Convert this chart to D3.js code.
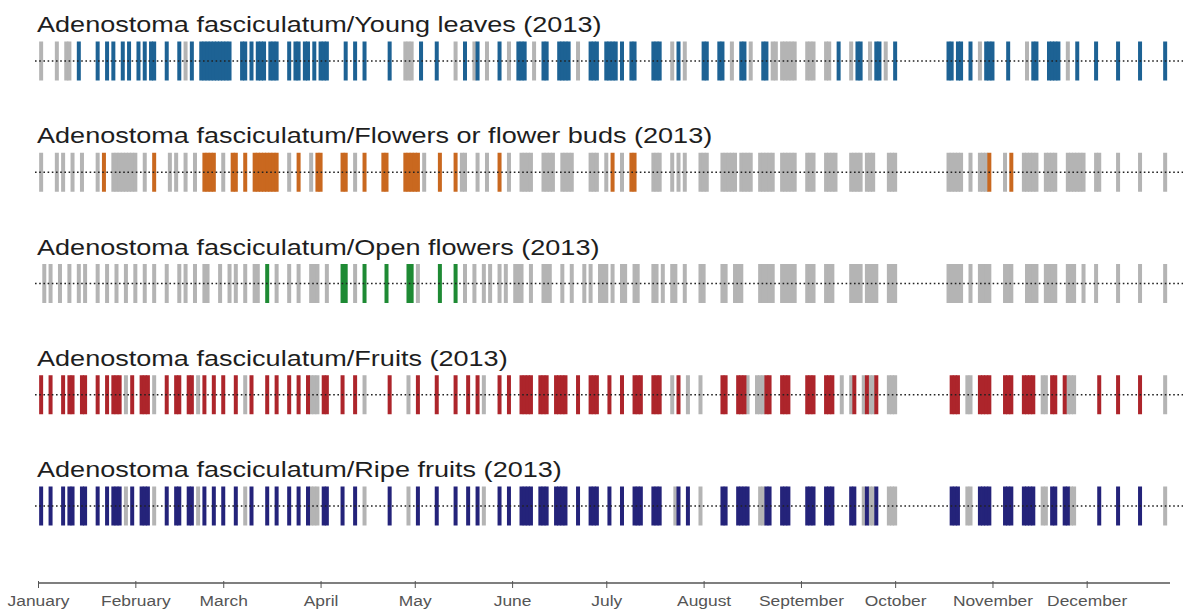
<!DOCTYPE html>
<html>
<head>
<meta charset="utf-8">
<script src="https://cdn.jsdelivr.net/npm/d3@7"></script>
<style>
  html, body { margin: 0; padding: 0; background: #fff; }
  svg { display: block; }
  text { font-family: "Liberation Sans", Arial, sans-serif; }
</style>
</head>
<body>
<svg id="chart" width="1183" height="609"></svg>
<script>
// ---- data -------------------------------------------------------------
const species = "Adenostoma fasciculatum";
const year = 2013;
const phenophases = ["Young leaves", "Flowers or flower buds", "Open flowers", "Fruits", "Ripe fruits"];
const monthNames = ["January", "February", "March", "April", "May", "June",
                    "July", "August", "September", "October", "November", "December"];

// Observation days (day of year). A number is one day, [a, b] is a run of days.
// "Yes" = phenophase present, "No" = observed but absent.
const youngLeavesYes = [14, 20, 23, 25, 28, 30, 33, 35, [37, 38], 42, 46, 50, [53, 62], [66, 67], 69,
  [71, 73], [75, 77], 81, [83, 84], [86, 87], 89, [91, 93], 99, 102, 105, 113, 123, 128, 137, 141, 148,
  [154, 156], [162, 163], [167, 170], [177, 179], [182, 185], 187, [190, 191], [197, 199], 205,
  [213, 214], [218, 219], [225, 226], [232, 233], 256, [262, 263], [268, 269], 274, [291, 292],
  [294, 295], 298, [303, 305], 310, [318, 319], [323, 326], 332, 338, 345, 352, 360];
const youngLeavesNo = [2, 7, 10, 11, 48, [118, 120], 134, 140, 144, 151, 159, 173, 203, 207, 222, 228,
  [235, 236], [238, 242], [246, 248], [252, 253], 260, 266, 271, 301, 316, 329];

const flowersYes = [22, 38, [54, 57], [63, 64], 67, [70, 77], 84, [90, 91], [98, 99], 105, [111, 112],
  [118, 122], 129, 134, 148, 184, [190, 191], 304, 311];
const flowersNo = [2, 7, 9, 12, 15, 20, [25, 32], 35, 43, 45, 48, 51, 60, 81, 88, 102, 124, [136, 137],
  141, 144, 151, [155, 158], [162, 165], [168, 171], [177, 179], 182, 187, [197, 199], 203, 205, 207,
  [212, 214], [219, 223], [225, 228], [231, 235], [238, 242], [246, 248], [252, 255], [260, 263],
  [265, 267], [272, 274], [291, 295], 298, [301, 303], 309, [315, 319], [322, 325], [329, 334],
  [338, 339], 345, 352, 360];

const openFlowersYes = [74, [98, 99], 105, 112, [119, 120], 129, 134];
const openFlowersNo = [3, 5, 8, 11, 14, 16, 20, 23, 26, 29, 32, 35, 38, 42, 46, 48, 51, [54, 55], 59, 62,
  64, 67, [70, 71], 77, 81, 84, [88, 90], 93, 102, 122, 137, 140, 143, 145, 148, 150, [153, 155], 158,
  [162, 164], 168, 171, 175, 177, [180, 182], 184, [187, 188], [191, 192], [197, 198], 200, [203, 204],
  207, [212, 213], [219, 220], [223, 225], [231, 235], [238, 242], [246, 248], [252, 254], [260, 263],
  [265, 268], [272, 274], [291, 295], 298, [301, 304], [309, 311], [316, 319], [322, 325], [329, 331],
  334, 338, 345, 352, 360];

const fruitsYes = [2, 5, 9, [11, 12], [15, 16], 20, 23, [25, 27], 31, [34, 36], 42, [45, 46], [49, 50],
  54, 57, 60, 64, 69, 74, 77, 81, 84, 87, [92, 93], 98, 102, 113, 122, 128, 134, 138, 141, 148, 151,
  [155, 158], [161, 163], [166, 169], 173, [177, 179], 183, 187, [191, 193], [197, 199], 205,
  [219, 220], [224, 226], [233, 234], [238, 240], [246, 248], [252, 254], 261, 265, 268,
  [292, 294], [301, 304], [309, 311], [315, 318], [324, 325], 328, 339, 345, 352];
const fruitsNo = [29, 38, 52, 67, [88, 90], 105, 119, 143, 203, 208, 212, 227, [230, 232], 257, 260, 264,
  [266, 267], [272, 274], [297, 298], [321, 322], [329, 331], 360];

const ripeFruitsYes = [2, 5, 9, [11, 12], [15, 16], 20, 23, [25, 27], 31, [34, 36], 42, [45, 46], [49, 50],
  54, 57, 60, 64, 69, 74, 77, 81, 84, 87, [92, 93], 98, 102, 113, 122, 128, 134, 138, 141, 148, 151,
  [155, 158], [161, 163], [166, 169], 173, [177, 179], 183, 187, [191, 193], [197, 199], 205, 208,
  [219, 220], [224, 227], [233, 234], [238, 240], [246, 248], [252, 254], [260, 261], 265, 268,
  [292, 294], [301, 304], [309, 311], [315, 318], [324, 325], [328, 329], 339, 345, 352];
const ripeFruitsNo = [29, 38, 52, 67, [88, 90], 105, 119, 143, 204, 212, [231, 232], 264, [266, 267],
  [272, 274], [297, 298], [321, 322], [330, 331], 360];

const seriesYes = [youngLeavesYes, flowersYes, openFlowersYes, fruitsYes, ripeFruitsYes];
const seriesNo = [youngLeavesNo, flowersNo, openFlowersNo, fruitsNo, ripeFruitsNo];
const seriesColors = ["#1d6294", "#c9681f", "#1e8a34", "#ad252b", "#24237a"];
const absentColor = "#b4b4b4";

// ---- helpers ----------------------------------------------------------
const jan1 = new Date(year, 0, 1);
const dayToDate = d => d3.timeDay.offset(jan1, d - 1);
const expand = runs => runs.flatMap(r => Array.isArray(r) ? d3.range(r[0], r[1] + 1) : [r]);

// ---- layout -----------------------------------------------------------
const svg = d3.select("#chart");
const monthStarts = d3.range(0, 12).map(m => new Date(year, m, 1));

const x = d3.scaleTime()
  .domain([jan1, new Date(year + 1, 0, 1)])
  .range([38, 1184]);

const y = d3.scalePoint()
  .domain(phenophases)
  .range([61, 506]);

const barW = 4, barH = 39;
const textStretch = 1.23;

phenophases.forEach((p, i) => {
  const cy = y(p);
  const g = svg.append("g");

  // title
  g.append("text")
    .attr("transform", `translate(37,${cy - 29}) scale(${textStretch},1)`)
    .attr("font-size", 22)
    .attr("fill", "#1e1e1e")
    .text(`${species}/${p} (${year})`);

  const obs = [
    ...expand(seriesNo[i]).map(d => ({ day: d, yes: false })),
    ...expand(seriesYes[i]).map(d => ({ day: d, yes: true }))
  ];

  g.selectAll("rect")
    .data(obs)
    .join("rect")
    .attr("x", d => x(dayToDate(d.day)) - barW / 2)
    .attr("y", cy - barH / 2)
    .attr("width", barW)
    .attr("height", barH)
    .attr("fill", d => d.yes ? seriesColors[i] : absentColor);

  // dotted baseline across the year
  g.append("line")
    .attr("x1", x.range()[0] - 3)
    .attr("x2", 1183)
    .attr("y1", cy).attr("y2", cy)
    .attr("stroke", "#222")
    .attr("stroke-width", 1.6)
    .attr("stroke-dasharray", "1.6,2.6");
});

// ---- month axis -------------------------------------------------------
const axisY = 583;
const axis = d3.axisBottom(x)
  .tickValues(monthStarts)
  .tickFormat((d, i) => monthNames[i])
  .tickSize(5)
  .tickSizeOuter(0);

const ax = svg.append("g")
  .attr("transform", `translate(0,${axisY})`)
  .call(axis);

ax.select(".domain")
  .attr("d", `M${x.range()[0]},0H1170`)
  .attr("stroke", "#555")
  .attr("stroke-width", 1.6);
ax.selectAll(".tick line")
  .attr("y1", -2)
  .attr("stroke", "#555");
ax.selectAll(".tick text")
  .attr("font-family", "'Liberation Sans', Arial, sans-serif")
  .attr("font-size", 14.5)
  .attr("fill", "#555")
  .attr("y", 0)
  .attr("dy", 0)
  .attr("transform", `translate(0,23) scale(1.2,1)`);
</script>
</body>
</html>
